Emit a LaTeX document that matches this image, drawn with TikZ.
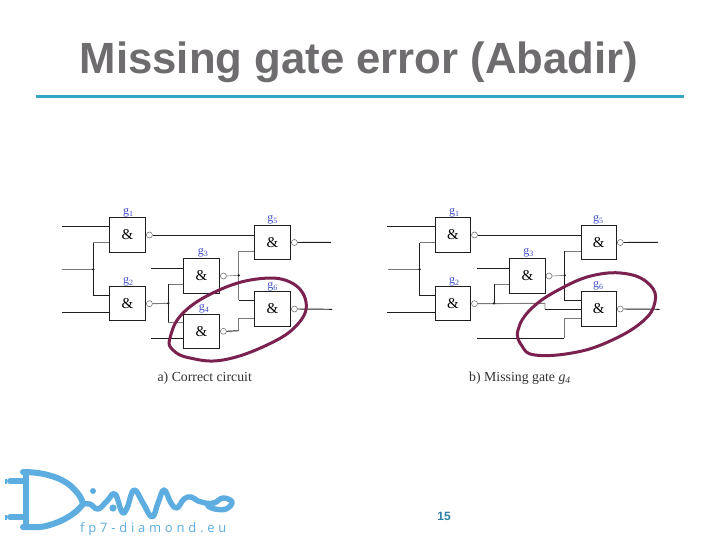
\documentclass[tikz,border=0pt]{standalone}
\usepackage{fontspec}
\setmainfont{Liberation Serif}
\newfontfamily\titlefont{Liberation Sans}
\newfontfamily\logofont[LetterSpace=29]{Open Sans}
\definecolor{titlegray}{HTML}{6E6C6E}
\definecolor{rulecol}{HTML}{35A6C4}
\definecolor{plum}{HTML}{7A2150}
\definecolor{logoblue}{HTML}{5DADE0}
\definecolor{gblue}{HTML}{3F4FC8}
\definecolor{numblue}{HTML}{2C7FA8}
\definecolor{wgray}{HTML}{7A7A7A}
\definecolor{wdark}{HTML}{1E1E1E}
\tikzset{
  gate/.style={draw=wdark,line width=0.85pt,fill=white,inner sep=0pt,minimum height=34.4pt,font=\fontsize{15}{15}\selectfont,text=black},
  gatea/.style={gate,minimum width=36.4pt},
  gateb/.style={gate,minimum width=35.6pt},
  bub/.style={circle,draw=wgray,line width=0.6pt,fill=white,inner sep=0pt,minimum size=6pt,anchor=west},
  wd/.style={draw=wdark,line width=0.95pt},
  wg/.style={draw=wgray,line width=0.9pt},
  jdot/.style={circle,fill=wdark,inner sep=0pt,minimum size=2.6pt},
  glabel/.style={text=gblue,font=\fontsize{12}{13}\selectfont,inner sep=0pt},
  caption/.style={font=\fontsize{13.8}{15}\selectfont,text=black!80,inner sep=0pt},
  ring/.style={draw=plum,line width=3pt},
  logoline/.style={draw=logoblue,line width=6pt,line cap=round,line join=round},
}
\begin{document}
\begin{tikzpicture}[x=1pt,y=-1pt]
\useasboundingbox (0,0) rectangle (720,540);
\fill[white] (0,0) rectangle (720,540);
% title
\node[font=\titlefont\bfseries\fontsize{43.7}{48}\selectfont,text=titlegray,inner sep=0pt] (title) at (359,62) {Missing gate error (Abadir)};
\coordinate (rl) at (36,96.5);
\coordinate (rr) at (684,96.5);
\draw[draw=rulecol,line width=2.8pt] (rl) -- (rr);

% ---------- circuit a
\node[gatea] (a1) at (127.5,235) {\&};
\node[gatea] (a2) at (127.5,303.7) {\&};
\node[gatea] (a3) at (201.5,276) {\&};
\node[gatea] (a4) at (201.5,331.3) {\&};
\node[gatea] (a5) at (272.5,242.5) {\&};
\node[gatea] (a6) at (272.5,309) {\&};
\foreach \n in {1,...,6} {\node[bub] (a\n o) at (a\n.east) {};}
\coordinate (ain1) at (62,226);
\coordinate (ain2) at (62,269.3);
\coordinate (ain3) at (62,312.7);
\coordinate (aj1) at (93.3,269.3);
\coordinate (av1) at (93.3,242.7);
\coordinate (av2) at (93.3,295);
\coordinate (ain4) at (151,268);
\coordinate (ain5) at (151,338.3);
\coordinate (aj2) at (168.3,303.3);
\coordinate (av3) at (168.3,284.3);
\coordinate (av4) at (168.3,322.3);
\coordinate (aj3) at (238.7,275.3);
\coordinate (av5) at (238.7,251);
\coordinate (av6) at (238.7,300);
\coordinate (av7) at (238.7,330.7);
\coordinate (av8) at (238.7,318.3);
\coordinate (aout5) at (331,242.3);
\coordinate (aout6) at (332,309.3);
\draw[wd] (ain1) -- (ain1 -| a1.west);
\draw[wg,line width=0.6pt] (ain2) -- (aj1);
\draw[wd] (ain3) -- (ain3 -| a2.west);
\draw[wg] (av1 -| a1.west) -- (av1);
\draw[wd] (av1) -- (av2) -- (av2 -| a2.west);
\draw[wd] (a1o.east) -- (a1o.east -| a5.west);
\draw[wd] (ain4) -- (ain4 -| a3.west);
\draw[wd] (ain5) -- (ain5 -| a4.west);
\draw[wg] (a2o.east) -- (aj2);
\draw[wg] (av3 -| a3.west) -- (av3);
\draw[wd] (av3) -- (av4);
\draw[wg] (av4) -- (av4 -| a4.west);
\draw[wg,line width=0.6pt] (a3o.east) -- (aj3);
\draw[wg] (av5 -| a5.west) -- (av5) -- (av6);
\draw[wd] (av6) -- (av6 -| a6.west);
\draw[wd] (a4o.east) -- (av7);
\draw[wg] (av7) -- (av8) -- (av8 -| a6.west);
\draw[wd] (a5o.east) -- (aout5);
\draw[wd] (a6o.east) -- (aout6);
\node[jdot] (ad1) at (aj1) {};
\node[jdot] (ad2) at (aj2) {};
\node[jdot] (ad3) at (aj3) {};
\node[glabel] (al1) at (128.3,212.5) {g\textsubscript{1}};
\node[glabel] (al2) at (128.3,281.5) {g\textsubscript{2}};
\node[glabel] (al3) at (203,253) {g\textsubscript{3}};
\node[glabel] (al4) at (204,309) {g\textsubscript{4}};
\node[glabel] (al5) at (272.7,219.5) {g\textsubscript{5}};
\node[glabel] (al6) at (272.7,286.5) {g\textsubscript{6}};
\node[caption] (acap) at (204.7,378) {a) Correct circuit};
\draw[ring] plot[smooth cycle,tension=0.7] coordinates {(170,338) (183,313) (217,291) (257,279) (290,282) (306,302) (297,325) (267,345) (223,360) (190,358) (173,350)};

% ---------- circuit b
\node[gateb] (b1) at (453,235) {\&};
\node[gateb] (b2) at (453,303.7) {\&};
\node[gateb] (b3) at (527.5,276) {\&};
\node[gateb] (b5) at (598.8,242.5) {\&};
\node[gateb] (b6) at (598.8,309) {\&};
\foreach \n in {1,2,3,5,6} {\node[bub] (b\n o) at (b\n.east) {};}
\coordinate (bin1) at (387,226);
\coordinate (bin2) at (388,269.3);
\coordinate (bin3) at (387,312.7);
\coordinate (bj1) at (419.5,269.3);
\coordinate (bv1) at (419.5,242.7);
\coordinate (bv2) at (419.5,295);
\coordinate (bin4) at (477,268);
\coordinate (bin5) at (477,338.3);
\coordinate (bj2) at (494,303.3);
\coordinate (bv3) at (494,284.3);
\coordinate (bk1) at (545,303.3);
\coordinate (bk2) at (545,309.3);
\coordinate (bj3) at (564.7,275.3);
\coordinate (bv5) at (564.7,251);
\coordinate (bv6) at (564.7,300);
\coordinate (bv7) at (564.3,338.3);
\coordinate (bv8) at (564.3,318.3);
\coordinate (bout5) at (658,242.3);
\coordinate (bout6) at (659.5,309.3);
\draw[wd] (bin1) -- (bin1 -| b1.west);
\draw[wg,line width=0.6pt] (bin2) -- (bj1);
\draw[wd] (bin3) -- (bin3 -| b2.west);
\draw[wg] (bv1 -| b1.west) -- (bv1);
\draw[wd] (bv1) -- (bv2) -- (bv2 -| b2.west);
\draw[wd] (b1o.east) -- (b1o.east -| b5.west);
\draw[wd] (bin4) -- (bin4 -| b3.west);
\draw[wg] (b2o.east) -- (bk1) -- (bk2);
\draw[wd] (bk2) -- (bk2 -| b6.west);
\draw[wg] (bv3 -| b3.west) -- (bv3);
\draw[wd] (bv3) -- (bj2);
\draw[wg,line width=0.6pt] (b3o.east) -- (bj3);
\draw[wg] (bv5 -| b5.west) -- (bv5);
\draw[wd] (bv5) -- (bv6) -- (bv6 -| b6.west);
\draw[wd] (bin5) -- (bv7);
\draw[wg] (bv7) -- (bv8) -- (bv8 -| b6.west);
\draw[wd] (b5o.east) -- (bout5);
\draw[wd] (b6o.east) -- (bout6);
\node[jdot] (bd1) at (bj1) {};
\node[jdot] (bd2) at (bj2) {};
\node[jdot] (bd3) at (bj3) {};
\node[glabel] (bl1) at (454.3,212.5) {g\textsubscript{1}};
\node[glabel] (bl2) at (454.3,281.5) {g\textsubscript{2}};
\node[glabel] (bl3) at (528.7,253) {g\textsubscript{3}};
\node[glabel] (bl5) at (598.3,219.5) {g\textsubscript{5}};
\node[glabel] (bl6) at (598.3,286) {g\textsubscript{6}};
\node[caption] (bcap) at (520,378) {b) Missing gate \textit{g\textsubscript{4}}};
\draw[ring] plot[smooth cycle,tension=0.7] coordinates {(518,330) (532,308) (562,288) (595,275) (628,274) (650,285) (655,302) (642,322) (608,342) (572,353) (535,355) (522,346)};

% ---------- logo
\draw[logoline,fill=none] (23,472) .. controls (40,472) and (60,476) .. (72,487) .. controls (78,493) and (82,498) .. (83,504) .. controls (76,514) and (62,522) .. (46,526) .. controls (38,528) and (30,527) .. (23,527);
\draw[logoline] (25.5,472) -- (25.5,527);
\draw[logoline] (10,481) -- (25,481);
\draw[logoline] (10,517) -- (25,517);
\draw[draw=logoblue,line width=2.5pt] (6,478.5) -- (6,483.5);
\draw[draw=logoblue,line width=2.5pt] (6,514.5) -- (6,519.5);
\draw[logoline,line width=5.4pt] plot[smooth,tension=0.7] coordinates {(83,504) (90,504) (98,509) (107,501) (115,494) (122,512) (127,508) (134,490) (143,503) (152,517) (158,503) (164,490) (171,503) (177,508) (184,499) (191,497) (198,501) (205,503) (214,503) (223,498) (232,502) (226,509) (215,509) (208,506)};
\fill[logoblue] (93,491) circle (3pt);
\fill[logoblue] (113,508) circle (3.6pt);
\node[font=\logofont\fontsize{13}{14}\selectfont,text=logoblue,inner sep=0pt,anchor=base west] (logotext) at (80,532) {fp7-diamond.eu};
% page number
\node[font=\titlefont\bfseries\fontsize{12}{14}\selectfont,text=numblue,inner sep=0pt] (num) at (444,516) {15};
\end{tikzpicture}
\end{document}
